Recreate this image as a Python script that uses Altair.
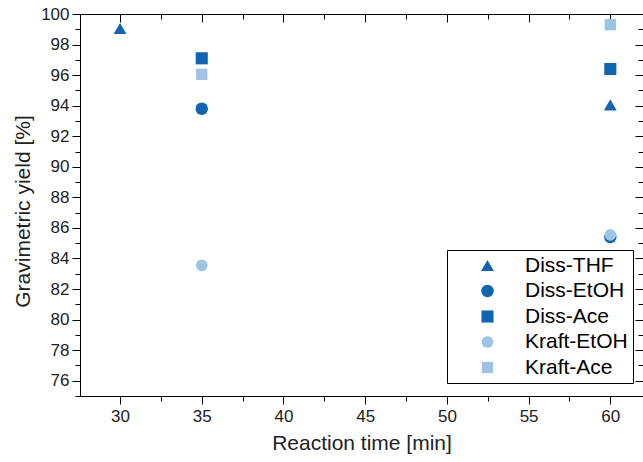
import altair as alt
import pandas as pd

series = ["Diss-THF", "Diss-EtOH", "Diss-Ace", "Kraft-EtOH", "Kraft-Ace"]
colors = ["#1064B0", "#1064B0", "#1064B0", "#9DC4E4", "#9DC4E4"]
shapes = ["triangle-up", "circle", "square", "circle", "square"]
sizes = [165, 128, 100, 128, 100]

times = {
    "Diss-THF": [30, 60],
    "Diss-EtOH": [35, 60],
    "Diss-Ace": [35, 60],
    "Kraft-EtOH": [35, 60],
    "Kraft-Ace": [35, 60],
}
yields = {
    "Diss-THF": [99.05, 94.05],
    "Diss-EtOH": [93.8, 85.4],
    "Diss-Ace": [97.1, 96.4],
    "Kraft-EtOH": [83.55, 85.55],
    "Kraft-Ace": [96.05, 99.3],
}

x_ticks = [27.5 + 2.5 * i for i in range(14)]
y_ticks = list(range(75, 101))

rows = []
for s in series:
    for t, v in zip(times[s], yields[s]):
        rows.append({"series": s, "time": t, "yield": v})
df = pd.DataFrame(rows)

W, H = 563, 382
XDOM = [27.55, 62.0]
YDOM = [75, 100]
FONT = "Liberation Sans"

xscale = alt.Scale(domain=XDOM, nice=False, zero=False)
yscale = alt.Scale(domain=YDOM, nice=False, zero=False)

x_major = {"condition": {"test": "datum.value % 5 === 0", "value": 8}, "value": 5}
y_major = {"condition": {"test": "datum.value % 2 === 0", "value": 8}, "value": 5}

points = alt.Chart(df).mark_point(filled=True, opacity=1).encode(
    x=alt.X("time:Q", scale=xscale,
            axis=alt.Axis(orient="bottom", values=x_ticks, grid=False,
                          labelExpr="datum.value % 5 === 0 ? datum.label : ''",
                          tickSize=x_major, labelPadding=4,
                          labelFontSize=17, labelFont=FONT, labelColor="#222",
                          title="Reaction time [min]", titleFont=FONT,
                          titleFontSize=21, titleFontWeight="normal",
                          titleColor="#222", titlePadding=8,
                          domainColor="black", tickColor="black")),
    y=alt.Y("yield:Q", scale=yscale,
            axis=alt.Axis(orient="left", values=y_ticks, grid=False,
                          labelExpr="datum.value % 2 === 0 ? datum.label : ''",
                          tickSize=y_major, labelPadding=3,
                          labelFontSize=17, labelFont=FONT, labelColor="#222",
                          title="Gravimetric yield [%]", titleFont=FONT,
                          titleFontSize=21, titleFontWeight="normal",
                          titleColor="#222", titlePadding=7, titleY=197,
                          domainColor="black", tickColor="black")),
    color=alt.Color("series:N", scale=alt.Scale(domain=series, range=colors),
                    legend=alt.Legend(orient="none", legendX=367, legendY=236,
                                      title=None, labelFont=FONT, labelFontSize=21,
                                      labelColor="black", symbolSize=95,
                                      symbolStrokeWidth=0, symbolOffset=25,
                                      labelOffset=27, rowPadding=3.5, padding=5,
                                      strokeColor="black", fillColor="white")),
    shape=alt.Shape("series:N", scale=alt.Scale(domain=series, range=shapes)),
    size=alt.Size("series:N", scale=alt.Scale(domain=series, range=sizes), legend=None),
)

frame = alt.Chart(df).mark_point(opacity=0).encode(
    x=alt.X("time:Q", scale=xscale,
            axis=alt.Axis(orient="bottom", offset=-H, values=x_ticks, labels=False,
                          title=None, grid=False, tickSize=x_major,
                          domainColor="black", tickColor="black")),
    y=alt.Y("yield:Q", scale=yscale,
            axis=alt.Axis(orient="left", offset=-W, values=y_ticks, labels=False,
                          title=None, grid=False, domain=False, tickSize=y_major,
                          tickColor="black")),
)

chart = alt.layer(points, frame).resolve_axis(x="independent", y="independent").properties(
    width=W, height=H,
    autosize=alt.AutoSizeParams(type="none"),
    padding={"left": 80, "top": 14, "right": 0, "bottom": 66},
).configure_view(stroke=None).configure(background="white")

chart.save("out.html", embed_options={"renderer": "svg", "actions": False})
